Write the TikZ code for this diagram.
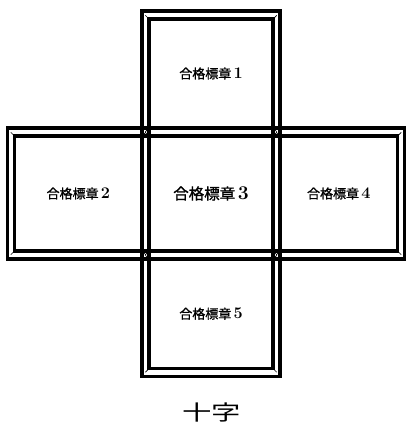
\documentclass[tikz,border=0pt]{standalone}
\usepackage{fontspec}
\usepackage{tikz}
\usetikzlibrary{calc,shapes.misc}
\newfontfamily\cjk{Noto Sans CJK JP}
\newfontfamily\cjkbold[FakeBold=1.2]{Noto Sans CJK JP}

\begin{document}
\begin{tikzpicture}[x=1pt,y=-1pt,
    outerframe/.style={chamfered rectangle, chamfered rectangle xsep=4pt, draw, line width=3.8pt, inner sep=0pt},
    innerframe/.style={rectangle, draw, line width=3.8pt, inner sep=0pt},
    tick/.style={line width=0.7pt}]
    \useasboundingbox (0,0) rectangle (407,432);
    \foreach \n/\x/\y/\w/\h/\s in {1/211/73.5/138/125/13, 2/78.25/193.5/141.5/131/13, 3/211/193.5/138/131/15.5, 4/338.75/193.5/131.5/131/13, 5/211/313.75/138/125.5/13} {
        \node[outerframe, minimum width=\w, minimum height=\h] (o\n) at (\x,\y) {};
        \node[innerframe, minimum width=\w-14, minimum height=\h-16, font=\fontsize{\s}{\s}\selectfont] (sq\n) at (\x,\y) {{\cjkbold 合格標章}\,\scalebox{1.25}{\bfseries\n}};
        \foreach \a/\d in {north west/1, south east/1, north east/-1, south west/-1}
            \draw[tick] (sq\n.\a) +(-1.8*\d,-1.8) -- +(1.8*\d,1.8);
    }
    \node (title) at (211.5,412) {\scalebox{1.4}[1]{\cjk\fontsize{21}{21}\selectfont 十字}};
\end{tikzpicture}
\end{document}
